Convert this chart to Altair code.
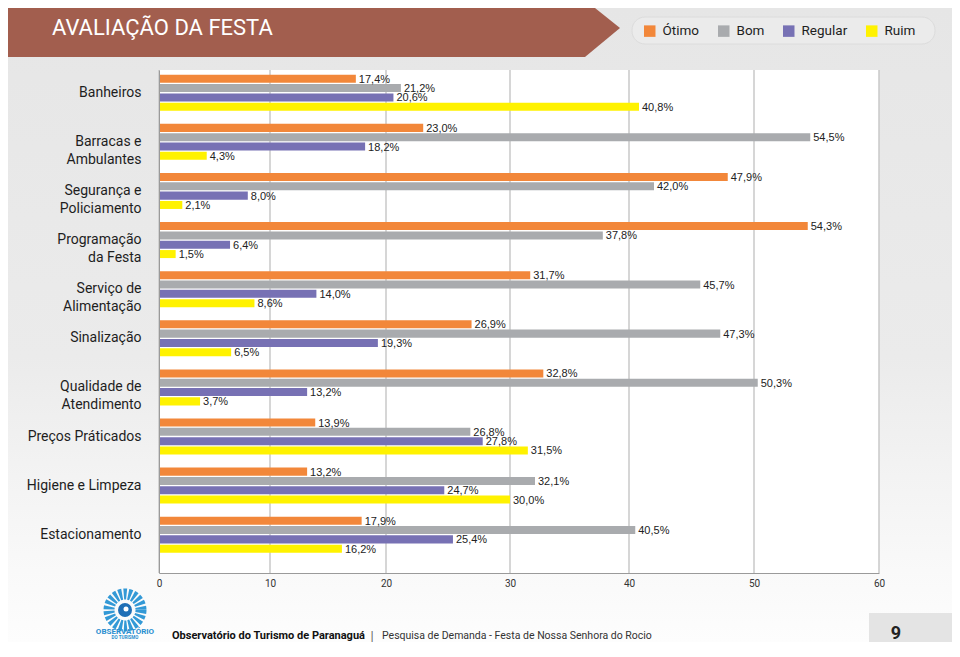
import altair as alt
import pandas as pd

# ---------------- data ----------------
categories = [
    "Banheiros",
    "Barracas e\nAmbulantes",
    "Segurança e\nPoliciamento",
    "Programação\nda Festa",
    "Serviço de\nAlimentação",
    "Sinalização",
    "Qualidade de\nAtendimento",
    "Preços Práticados",
    "Higiene e Limpeza",
    "Estacionamento",
]
series = ["Ótimo", "Bom", "Regular", "Ruim"]
otimo = [17.4, 23.0, 47.9, 54.3, 31.7, 26.9, 32.8, 13.9, 13.2, 17.9]
bom = [21.2, 54.5, 42.0, 37.8, 45.7, 47.3, 50.3, 26.8, 32.1, 40.5]
regular = [20.6, 18.2, 8.0, 6.4, 14.0, 19.3, 13.2, 27.8, 24.7, 25.4]
ruim = [40.8, 4.3, 2.1, 1.5, 8.6, 6.5, 3.7, 31.5, 30.0, 16.2]
x_ticks = [0, 10, 20, 30, 40, 50, 60]

colors = ["#F2873A", "#A9ABAE", "#7771B4", "#FFF200"]

rows = []
for i, c in enumerate(categories):
    for s, vals in zip(series, [otimo, bom, regular, ruim]):
        v = vals[i]
        rows.append({"categoria": c, "avaliacao": s, "valor": v,
                     "rotulo": f"{v:.1f}".replace(".", ",") + "%"})
df = pd.DataFrame(rows)
ticks_df = pd.DataFrame({"t": x_ticks})
one = pd.DataFrame({"k": [0]})

# ---------------- layout ----------------
W, H = 720, 503
PAD = {"left": 151, "top": 62, "right": 73, "bottom": 69}

xscale = alt.Scale(domain=x_ticks, range=[0, 111, 227, 351, 470, 595, 720], nice=False)
yscale = alt.Scale(domain=categories, paddingInner=0.267, paddingOuter=0.255, align=0.19)
offscale = alt.Scale(domain=series, paddingInner=0.14, paddingOuter=0)

xaxis = alt.Axis(values=x_ticks, grid=False, ticks=False, domainColor="#9a9a9a",
                 labelFont="Roboto", labelFontSize=10, labelColor="#333333",
                 labelPadding=5, labelFlush=False, title=None, zindex=1, format="d")
yaxis = alt.Axis(title=None, ticks=False, domainColor="#9a9a9a", labelFont="Roboto",
                 labelFontSize=14, labelColor="#1e1e1e", labelPadding=18,
                 labelExpr="split(datum.label, '\\n')", labelLineHeight=18,
                 zindex=1, labelLimit=250)
legend = alt.Legend(title=None, orient="none", legendX=484, legendY=-46,
                    direction="horizontal", symbolType="square", symbolSize=132,
                    symbolStrokeWidth=0, labelFont="Roboto", labelFontSize=13.5,
                    labelColor="#1e1e1e", labelOffset=6, columnPadding=17,
                    zindex=1, padding=0)

# page background
bg = alt.Chart(one).mark_rect(
    color=alt.LinearGradient(
        gradient="linear", x1=0, x2=0, y1=0, y2=1,
        stops=[alt.GradientStop(offset=0, color="#e6e6e6"),
               alt.GradientStop(offset=0.55, color="#ebebeb"),
               alt.GradientStop(offset=0.86, color="#f8f8f8"),
               alt.GradientStop(offset=1, color="#fdfdfd")])
).encode(x=alt.value(-PAD["left"]), x2=alt.value(W + PAD["right"]),
         y=alt.value(-PAD["top"]), y2=alt.value(H + PAD["bottom"]))

# header arrow band
header = alt.Chart(one).mark_point(
    shape="M-600,-28L0,-28L35,0L0,29L-600,29Z", size=4, filled=True,
    fill="#A25E4E", strokeWidth=0, opacity=1
).encode(x=alt.value(426), y=alt.value(-42))

title = alt.Chart(one).mark_text(
    align="left", baseline="middle", font="Roboto", fontSize=22, color="white"
).encode(x=alt.value(-107), y=alt.value(-42), text=alt.value("AVALIAÇÃO DA FESTA"))

legend_box = alt.Chart(one).mark_rect(
    cornerRadius=13, fill="#ebebeb", stroke="#dcdcdc", strokeWidth=1
).encode(x=alt.value(473), x2=alt.value(776), y=alt.value(-53), y2=alt.value(-26))

plot_bg = alt.Chart(one).mark_rect(fill="white").encode(
    x=alt.value(0), x2=alt.value(W), y=alt.value(0), y2=alt.value(H))

grid = alt.Chart(ticks_df).mark_rule(color="#c9c9c9", strokeWidth=1.5).encode(
    x=alt.X("t:Q", scale=xscale, axis=xaxis), y=alt.value(0), y2=alt.value(H))

bars = alt.Chart(df).mark_bar().encode(
    x=alt.X("valor:Q", scale=xscale, axis=xaxis),
    y=alt.Y("categoria:N", scale=yscale, axis=yaxis, sort=categories),
    yOffset=alt.YOffset("avaliacao:N", scale=offscale, sort=series),
    color=alt.Color("avaliacao:N", scale=alt.Scale(domain=series, range=colors),
                    legend=legend, sort=series),
)

labels = alt.Chart(df).mark_text(
    align="left", baseline="middle", dx=3, dy=1, font="Liberation Sans",
    fontSize=11, color="#222222"
).encode(
    x=alt.X("valor:Q", scale=xscale, axis=xaxis),
    y=alt.Y("categoria:N", scale=yscale, axis=yaxis, sort=categories),
    yOffset=alt.YOffset("avaliacao:N", scale=offscale, sort=series),
    text="rotulo:N",
)

# footer
foot1 = alt.Chart(one).mark_text(
    align="left", baseline="middle", font="Roboto", fontWeight="bold", fontSize=11,
    color="#111111"
).encode(x=alt.value(13), y=alt.value(566),
         text=alt.value("Observatório do Turismo de Paranaguá"))
foot_sep = alt.Chart(one).mark_text(
    align="center", baseline="middle", font="Roboto", fontSize=13, color="#666666"
).encode(x=alt.value(213), y=alt.value(566), text=alt.value("|"))
foot2 = alt.Chart(one).mark_text(
    align="left", baseline="middle", font="Roboto", fontSize=10.5, color="#333333"
).encode(x=alt.value(223), y=alt.value(566),
         text=alt.value("Pesquisa de Demanda - Festa de Nossa Senhora do Rocio"))

page_box = alt.Chart(one).mark_rect(fill="#e4e4e4").encode(
    x=alt.value(710), x2=alt.value(W + PAD["right"]), y=alt.value(543),
    y2=alt.value(H + PAD["bottom"]))
page_num = alt.Chart(one).mark_text(
    align="center", baseline="middle", font="Roboto", fontWeight="bold", fontSize=18,
    color="#222222"
).encode(x=alt.value(737), y=alt.value(564), text=alt.value("9"))

# logo
ring = alt.Chart(one).mark_point(
    shape="circle", size=32 * 32, filled=False, stroke="#3399d6", strokeWidth=11,
    strokeDash=[3, 1.6], opacity=1
).encode(x=alt.value(-34), y=alt.value(540))
eye = alt.Chart(one).mark_point(
    shape="circle", size=14 * 14, filled=True, fill="#1f6fb6", strokeWidth=0, opacity=1
).encode(x=alt.value(-34), y=alt.value(540))
pupil = alt.Chart(one).mark_point(
    shape="circle", size=25, filled=True, fill="white", strokeWidth=0, opacity=1
).encode(x=alt.value(-33), y=alt.value(539))
logo_t1 = alt.Chart(one).mark_text(
    align="center", baseline="middle", font="Roboto", fontWeight="bold", fontSize=8,
    color="#2a8fd0"
).encode(x=alt.value(-34), y=alt.value(562), text=alt.value("OBSERVATÓRIO"))
logo_t2 = alt.Chart(one).mark_text(
    align="center", baseline="middle", font="Roboto", fontWeight="bold", fontSize=4.5,
    color="#2a8fd0"
).encode(x=alt.value(-34), y=alt.value(568), text=alt.value("DO TURISMO"))

chart = alt.layer(
    bg, header, title, legend_box, plot_bg, grid, bars, labels,
    foot1, foot_sep, foot2, page_box, page_num, ring, eye, pupil, logo_t1, logo_t2
).properties(
    width=W, height=H, padding=PAD, autosize=alt.AutoSizeParams(type="none")
).configure_view(strokeWidth=0)

chart.save("out.html", embed_options={"renderer": "svg", "actions": False})
